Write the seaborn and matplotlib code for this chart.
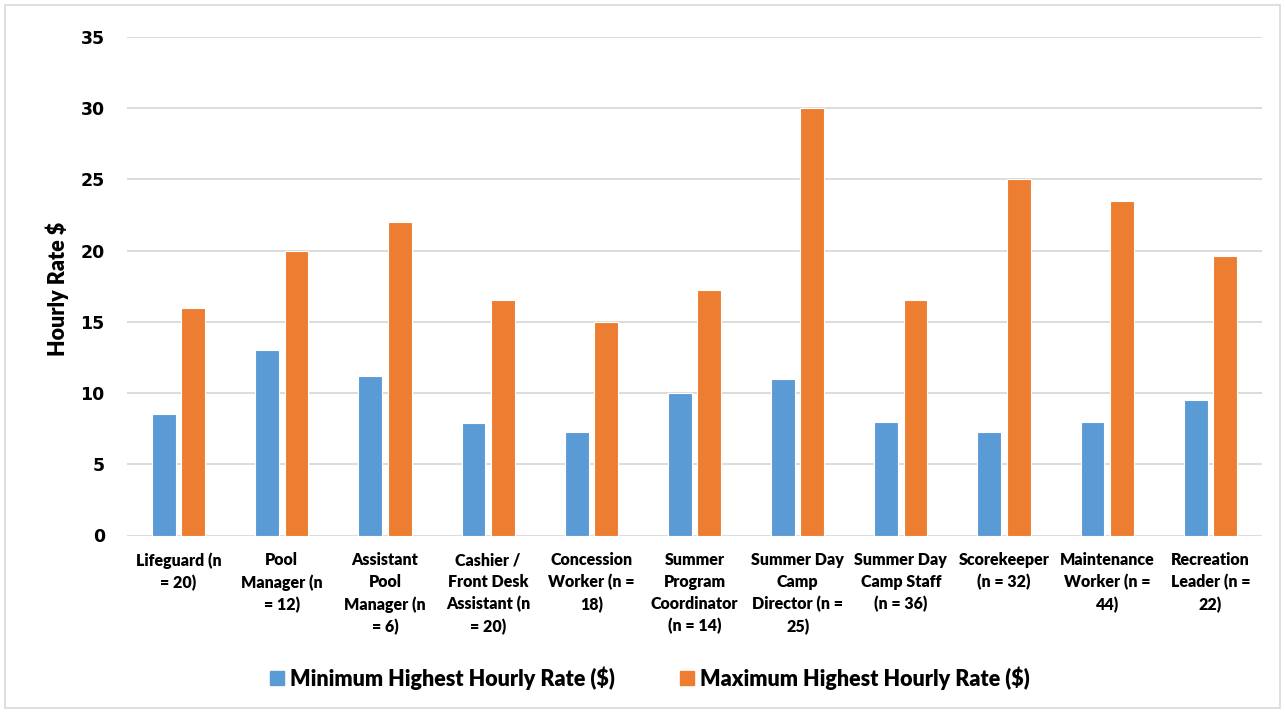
import matplotlib
matplotlib.use("Agg")
import matplotlib.pyplot as plt
import matplotlib.patches as mpatches
import seaborn as sns
import pandas as pd

# Job titles (with sample sizes) shown along the x axis
categories = [
    "Lifeguard (n\n= 20)",
    "Pool\nManager (n\n= 12)",
    "Assistant\nPool\nManager (n\n= 6)",
    "Cashier /\nFront Desk\nAssistant (n\n= 20)",
    "Concession\nWorker (n =\n18)",
    "Summer\nProgram\nCoordinator\n(n = 14)",
    "Summer Day\nCamp\nDirector (n =\n25)",
    "Summer Day\nCamp Staff\n(n = 36)",
    "Scorekeeper\n(n = 32)",
    "Maintenance\nWorker (n =\n44)",
    "Recreation\nLeader (n =\n22)",
]

min_rate = [8.5, 13.0, 11.2, 7.9, 7.25, 10.0, 11.0, 8.0, 7.25, 8.0, 9.5]
max_rate = [16.0, 20.0, 22.0, 16.5, 15.0, 17.25, 30.0, 16.5, 25.0, 23.5, 19.65]

series_names = ["Minimum Highest Hourly Rate ($)", "Maximum Highest Hourly Rate ($)"]
series_colors = ["#5B9BD5", "#ED7D31"]
y_ticks = [0, 5, 10, 15, 20, 25, 30, 35]

df = pd.DataFrame({
    "job": categories * 2,
    "rate": min_rate + max_rate,
    "series": [series_names[0]] * len(categories) + [series_names[1]] * len(categories),
})

sns.set_style("white")
plt.rcParams["text.color"] = "black"
plt.rcParams["xtick.color"] = "black"
plt.rcParams["ytick.color"] = "black"
label_font = ["Lato", "DejaVu Sans"]
label_weight = "heavy"

fig = plt.figure(figsize=(12.85, 7.13), dpi=100)
ax = fig.add_axes([127 / 1285, 1 - 535.5 / 713, (1262 - 127) / 1285, (535.5 - 37) / 713])

sns.barplot(
    data=df, x="job", y="rate", hue="series", order=categories,
    hue_order=series_names, palette=series_colors, saturation=1,
    width=0.57, gap=0.19, edgecolor="white", linewidth=0.8,
    errorbar=None, ax=ax, legend=False, zorder=3,
)

ax.set_ylim(0, 35)
ax.set_yticks(y_ticks)
ax.set_yticklabels([str(t) for t in y_ticks], fontsize=12.5, fontweight="bold",
                   family="DejaVu Sans", color="black")
ax.tick_params(axis="y", length=0, pad=16)
ax.tick_params(axis="x", length=0, pad=12)
for lbl in ax.get_xticklabels():
    lbl.set_fontsize(11.5)
    lbl.set_fontweight(label_weight)
    lbl.set_family(label_font)
    lbl.set_linespacing(1.45)
    lbl.set_verticalalignment("top")
    lbl.set_color("black")

ax.grid(axis="y", color="#D9D9D9", linewidth=1.3, zorder=0)
ax.set_axisbelow(True)
for s in ax.spines.values():
    s.set_visible(False)
ax.set_xlabel("")
ax.set_ylabel("")

fig.text(57 / 1285, 1 - 289 / 713, "Hourly Rate $", rotation=90, ha="center",
         va="center", fontsize=15.5, fontweight=label_weight, family=label_font)

handles = [mpatches.Patch(color=c, label=n) for c, n in zip(series_colors, series_names)]
fig.legend(handles=handles, loc="center", bbox_to_anchor=(650 / 1285, 1 - 678 / 713),
           ncol=2, frameon=False, handlelength=0.65, handleheight=0.65,
           handletextpad=0.3, columnspacing=3.0,
           prop={"family": label_font, "weight": label_weight, "size": 15.5})

# Light chart-area border
fig.patches.append(mpatches.Rectangle((5 / 1285, 5 / 713), 1 - 10 / 1285, 1 - 10 / 713,
                                      transform=fig.transFigure, fill=False,
                                      edgecolor="#D9D9D9", linewidth=1.2))

fig.savefig("out.png", dpi=100)
